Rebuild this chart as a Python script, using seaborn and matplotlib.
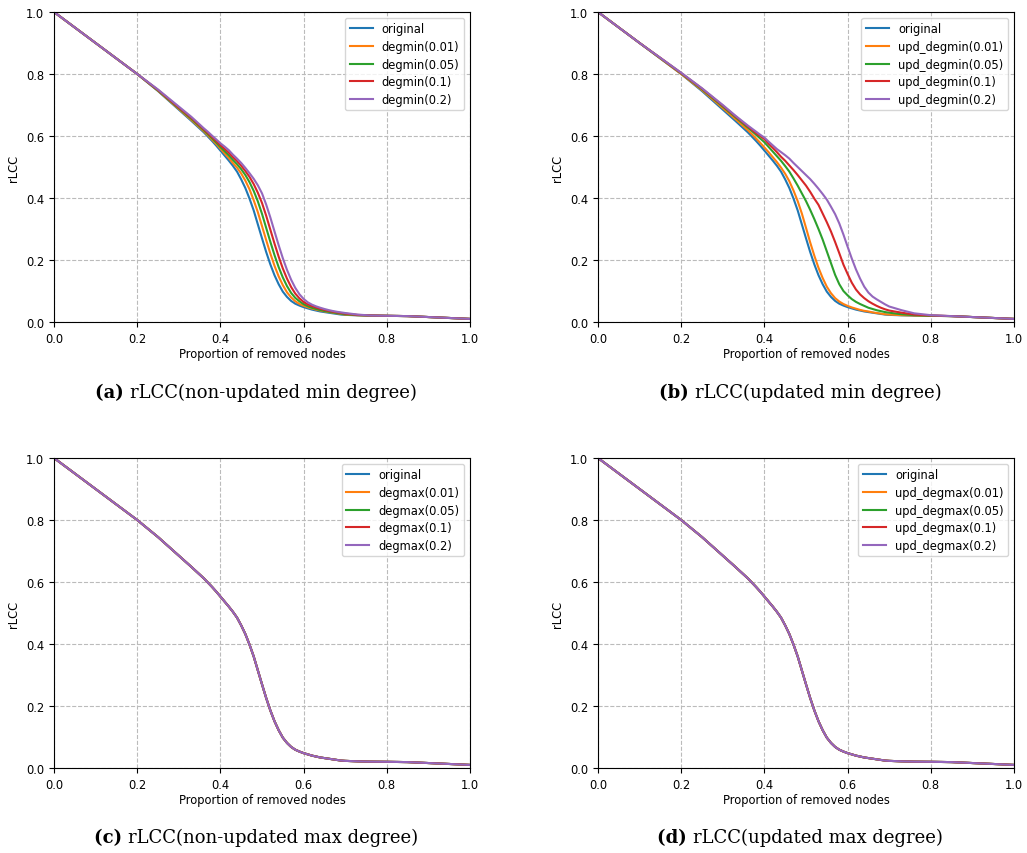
import matplotlib
matplotlib.use("Agg")
import matplotlib.pyplot as plt
import seaborn as sns
import pandas as pd

# ---------------- data ----------------
x = [0.0, 0.05, 0.1, 0.15, 0.2, 0.25, 0.3, 0.33,
     0.36, 0.37, 0.38, 0.39, 0.40, 0.41, 0.42, 0.43, 0.44, 0.45, 0.46, 0.47, 0.48, 0.49,
     0.50, 0.51, 0.52, 0.53, 0.54, 0.55, 0.56, 0.57, 0.58, 0.59, 0.60, 0.61, 0.62, 0.63,
     0.64, 0.65, 0.66, 0.67, 0.68, 0.69, 0.70,
     0.73, 0.76, 0.8, 0.85, 0.9, 0.95, 1.0]

original = [1.0, 0.95, 0.90, 0.85, 0.80, 0.745, 0.685, 0.649,
            0.612, 0.598, 0.584, 0.569, 0.553, 0.537, 0.521, 0.504, 0.485, 0.46, 0.432, 0.398, 0.36, 0.315,
            0.27, 0.226, 0.186, 0.151, 0.122, 0.098, 0.081, 0.068, 0.059, 0.053, 0.048, 0.044, 0.040, 0.037,
            0.034, 0.032, 0.030, 0.028, 0.026, 0.024, 0.023,
            0.0215, 0.0205, 0.020, 0.019, 0.016, 0.013, 0.010]

# panel (a): non-updated min degree
degmin_001 = [1.0, 0.95, 0.90, 0.85, 0.80, 0.746, 0.6875, 0.652,
              0.6155, 0.6019, 0.5882, 0.5743, 0.559, 0.5442, 0.5294, 0.513, 0.498, 0.479, 0.456, 0.428, 0.393, 0.3544,
              0.3094, 0.2645, 0.221, 0.1816, 0.1474, 0.119, 0.0959, 0.0794, 0.0669, 0.0583, 0.0524, 0.0475, 0.0435, 0.040,
              0.037, 0.0343, 0.0322, 0.0302, 0.0282, 0.0262, 0.0239,
              0.0218, 0.0207, 0.020, 0.019, 0.016, 0.013, 0.010]
degmin_005 = [1.0, 0.95, 0.90, 0.85, 0.80, 0.747, 0.690, 0.6556,
              0.619, 0.6057, 0.5924, 0.5791, 0.5643, 0.5514, 0.5378, 0.523, 0.509, 0.493, 0.474, 0.451, 0.423, 0.389,
              0.349, 0.3038, 0.259, 0.216, 0.1773, 0.1438, 0.116, 0.0938, 0.0778, 0.0668, 0.0575, 0.051, 0.046, 0.042,
              0.0385, 0.0355, 0.033, 0.0309, 0.0289, 0.0269, 0.0249,
              0.0222, 0.021, 0.020, 0.019, 0.016, 0.013, 0.010]
degmin_01 = [1.0, 0.95, 0.90, 0.85, 0.80, 0.7485, 0.692, 0.659,
             0.622, 0.6096, 0.5966, 0.5841, 0.5706, 0.5586, 0.5462, 0.532, 0.519, 0.504, 0.487, 0.468, 0.445, 0.417,
             0.384, 0.3431, 0.2981, 0.2533, 0.211, 0.1728, 0.1401, 0.1129, 0.0916, 0.0762, 0.0646, 0.0567, 0.0512, 0.0465,
             0.0425, 0.0391, 0.0358, 0.0332, 0.031, 0.029, 0.027,
             0.0228, 0.0212, 0.020, 0.019, 0.016, 0.013, 0.010]
degmin_02 = [1.0, 0.95, 0.90, 0.85, 0.80, 0.750, 0.695, 0.662,
             0.625, 0.6135, 0.601, 0.589, 0.5765, 0.566, 0.5545, 0.540, 0.527, 0.513, 0.497, 0.480, 0.462, 0.441,
             0.415, 0.379, 0.3375, 0.2925, 0.248, 0.206, 0.1685, 0.1365, 0.110, 0.0895, 0.0745, 0.0635, 0.056, 0.0505,
             0.046, 0.042, 0.0385, 0.0355, 0.033, 0.031, 0.029,
             0.024, 0.021, 0.020, 0.019, 0.016, 0.013, 0.010]

# panel (b): updated min degree
upd_degmin_001 = [1.0, 0.95, 0.90, 0.85, 0.80, 0.748, 0.690, 0.655,
                  0.619, 0.606, 0.592, 0.578, 0.563, 0.548, 0.532, 0.516, 0.498, 0.478, 0.454, 0.424, 0.39, 0.35,
                  0.304, 0.257, 0.214, 0.175, 0.142, 0.114, 0.093, 0.077, 0.066, 0.058, 0.052, 0.047, 0.043, 0.039,
                  0.036, 0.034, 0.031, 0.029, 0.027, 0.025, 0.024,
                  0.022, 0.021, 0.020, 0.019, 0.016, 0.013, 0.010]
upd_degmin_005 = [1.0, 0.95, 0.90, 0.851, 0.802, 0.751, 0.695, 0.661,
                  0.627, 0.616, 0.604, 0.592, 0.58, 0.565, 0.55, 0.535, 0.52, 0.503, 0.485, 0.463, 0.44, 0.415,
                  0.39, 0.362, 0.332, 0.30, 0.266, 0.228, 0.19, 0.152, 0.122, 0.10, 0.086, 0.074, 0.065, 0.058,
                  0.052, 0.046, 0.042, 0.038, 0.035, 0.032, 0.030,
                  0.025, 0.022, 0.020, 0.019, 0.016, 0.013, 0.010]
upd_degmin_01 = [1.0, 0.95, 0.90, 0.852, 0.803, 0.753, 0.698, 0.664,
                 0.631, 0.62, 0.609, 0.60, 0.59, 0.575, 0.562, 0.548, 0.533, 0.52, 0.505, 0.49, 0.474, 0.457,
                 0.44, 0.42, 0.398, 0.378, 0.35, 0.322, 0.292, 0.258, 0.222, 0.185, 0.155, 0.127, 0.105, 0.089,
                 0.077, 0.067, 0.059, 0.052, 0.046, 0.041, 0.037,
                 0.030, 0.024, 0.021, 0.019, 0.016, 0.013, 0.010]
upd_degmin_02 = [1.0, 0.95, 0.90, 0.852, 0.804, 0.754, 0.70, 0.666,
                 0.634, 0.624, 0.614, 0.604, 0.595, 0.582, 0.57, 0.558, 0.548, 0.538, 0.527, 0.513, 0.50, 0.487,
                 0.474, 0.461, 0.446, 0.43, 0.413, 0.395, 0.372, 0.348, 0.318, 0.282, 0.243, 0.205, 0.170, 0.14,
                 0.114, 0.095, 0.082, 0.073, 0.065, 0.057, 0.050,
                 0.038, 0.028, 0.022, 0.019, 0.016, 0.013, 0.010]

# panels (c), (d): max-degree variants coincide with the original curve
degmax_001 = original
degmax_005 = original
degmax_01 = original
degmax_02 = original
upd_degmax_001 = original
upd_degmax_005 = original
upd_degmax_01 = original
upd_degmax_02 = original

panels = [
    ("a", "rLCC(non-updated min degree)",
     ["original", "degmin(0.01)", "degmin(0.05)", "degmin(0.1)", "degmin(0.2)"],
     [original, degmin_001, degmin_005, degmin_01, degmin_02]),
    ("b", "rLCC(updated min degree)",
     ["original", "upd_degmin(0.01)", "upd_degmin(0.05)", "upd_degmin(0.1)", "upd_degmin(0.2)"],
     [original, upd_degmin_001, upd_degmin_005, upd_degmin_01, upd_degmin_02]),
    ("c", "rLCC(non-updated max degree)",
     ["original", "degmax(0.01)", "degmax(0.05)", "degmax(0.1)", "degmax(0.2)"],
     [original, degmax_001, degmax_005, degmax_01, degmax_02]),
    ("d", "rLCC(updated max degree)",
     ["original", "upd_degmax(0.01)", "upd_degmax(0.05)", "upd_degmax(0.1)", "upd_degmax(0.2)"],
     [original, upd_degmax_001, upd_degmax_005, upd_degmax_01, upd_degmax_02]),
]

# ---------------- layout ----------------
W, H = 1027, 854
fig = plt.figure(figsize=(W / 100, H / 100), dpi=100)
fig.patch.set_facecolor("white")

ax_px = {  # left, top, right, bottom in pixels
    "a": (54, 13, 470, 323),
    "b": (598, 13, 1014, 323),
    "c": (54, 459, 470, 769),
    "d": (598, 459, 1014, 769),
}
cap_px = {"a": (256, 393), "b": (800, 393), "c": (256, 838), "d": (800, 838)}

palette = sns.color_palette("tab10", 5)
FS = 8.3
captions = []
for key, cap, names, series in panels:
    l, t, r, b = ax_px[key]
    ax = fig.add_axes([l / W, 1 - b / H, (r - l) / W, (b - t) / H])
    rows = []
    for n, vals in zip(names, series):
        assert len(vals) == len(x)
        for xi, yi in zip(x, vals):
            rows.append({"x": xi, "rLCC": yi, "series": n})
    df = pd.DataFrame(rows)
    sns.lineplot(data=df, x="x", y="rLCC", hue="series", hue_order=names,
                 palette=palette, linewidth=1.5, ax=ax, sort=False, estimator=None)
    ax.set_xlim(0, 1)
    ax.set_ylim(0, 1)
    ax.set_xticks([0, 0.2, 0.4, 0.6, 0.8, 1.0])
    ax.set_yticks([0, 0.2, 0.4, 0.6, 0.8, 1.0])
    ax.tick_params(labelsize=FS)
    ax.set_xlabel("Proportion of removed nodes", fontsize=FS, labelpad=2)
    ax.set_ylabel("rLCC", fontsize=FS)
    ax.grid(True, linestyle="--", color="#bbbbbb", linewidth=0.8)
    ax.set_axisbelow(True)
    sns.move_legend(ax, "upper right", title=None, fontsize=FS, frameon=True,
                    labelspacing=0.4)
    captions.append((key, cap))

# captions with bold label
fig.canvas.draw()
renderer = fig.canvas.get_renderer()
cap_font = ["DejaVu Serif"]
cap_size = 13
for key, cap in captions:
    cx, cy = cap_px[key]
    t1 = fig.text(0, 0, f"({key}) ", fontsize=cap_size, fontweight="bold", family=cap_font, va="center")
    t2 = fig.text(0, 0, cap, fontsize=cap_size, family=cap_font, va="center")
    w1 = t1.get_window_extent(renderer).width
    w2 = t2.get_window_extent(renderer).width
    x0 = cx - (w1 + w2) / 2
    t1.set_position((x0 / W, 1 - cy / H))
    t2.set_position(((x0 + w1) / W, 1 - cy / H))

fig.savefig("out.png", dpi=100, facecolor="white")
